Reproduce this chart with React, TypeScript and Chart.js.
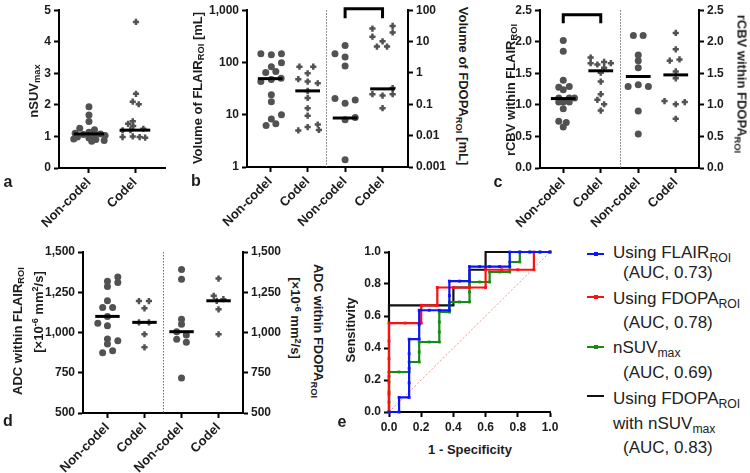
import React, { useEffect, useRef } from 'react';
import { Chart, registerables } from 'chart.js';

Chart.register(...registerables);

const FONT = "'Liberation Sans', Arial, Helvetica, sans-serif";
const POINT = '#525252';
const INK = '#1c1c1c';

// ---------- Panel a: nSUVmax ----------
const aCats = ['Non-codel', 'Codel'];
const aNonCodelVals = [1.94, 1.68, 1.47, 1.26, 1.21, 1.13, 1.1, 1.08, 1.06, 1.05, 1.03, 0.98, 0.95, 0.92, 0.9, 0.87, 0.85];
const aNonCodelJit = [0, 0, 0, -0.2, 0.12, 0.0, -0.3, 0.25, -0.12, 0.12, 0.35, -0.25, 0.0, -0.33, 0.15, 0.33, 0.06];
const aCodelVals = [4.63, 2.35, 2.1, 2.02, 1.48, 1.4, 1.33, 1.24, 1.2, 1.19, 1.0, 0.98, 0.98, 0.96];
const aCodelJit = [0.02, 0.02, -0.05, 0.08, -0.05, -0.15, -0.04, 0.18, -0.1, -0.27, -0.05, -0.27, 0.1, 0.22];
const aMedians = [1.08, 1.2];
const aTicks = [0, 1, 2, 3, 4, 5];

// ---------- Panel b: volumes ----------
const bCats = ['Non-codel', 'Codel', 'Non-codel', 'Codel'];
const bFlairNonCodelVals = [147, 141, 147, 83, 99, 64, 67, 43, 47, 50, 24, 17.7, 8.3, 10, 6.2, 6.7];
const bFlairNonCodelJit = [-0.25, 0.03, 0.3, 0.03, 0.3, -0.12, 0.15, -0.25, 0.03, 0.29, 0.03, 0.03, 0.03, 0.3, -0.11, 0.15];
const bFlairCodelVals = [83, 83, 62, 48, 43, 40, 28.6, 21, 13.3, 9.6, 6.5, 5.8, 5.0, 5.1];
const bFlairCodelJit = [-0.22, 0.15, 0.0, -0.25, 0.0, 0.27, 0.0, 0.0, 0.0, 0.0, 0.27, 0.0, -0.25, 0.3];
const bFdopaNonCodelVals = [7.5, 4.1, 3.2, 1.66, 0.154, 0.107, 0.136, 0.038, 0.032, 0.0017];
const bFdopaNonCodelJit = [0, -0.27, 0, 0, -0.27, 0, 0.27, 0.27, 0, 0];
const bFdopaCodelVals = [26, 31.6, 19.5, 14.3, 10.2, 6.9, 6.9, 0.33, 0.21, 0.19, 0.21, 0.075];
const bFdopaCodelJit = [-0.27, 0.27, 0.27, -0.27, 0, -0.15, 0.12, 0.27, -0.27, 0, 0.27, 0];
const bMedians = [49, 28.6, 0.0365, 0.31];
const bLeftTicks = [1, 10, 100, 1000];
const bRightTicks = [0.001, 0.01, 0.1, 1, 10, 100];

// ---------- Panel c: rCBV ----------
const cCats = ['Non-codel', 'Codel', 'Non-codel', 'Codel'];
const cFlairNonCodelVals = [2.02, 1.85, 1.39, 1.28, 1.29, 1.24, 1.11, 1.11, 1.11, 1.045, 1.045, 1.045, 0.94, 0.74, 0.72, 0.65];
const cFlairNonCodelJit = [0, 0, 0, -0.12, 0.16, 0, -0.12, 0.16, 0.3, -0.12, 0, 0.16, 0, -0.12, 0.08, 0];
const cFlairCodelVals = [1.75, 1.66, 1.64, 1.68, 1.66, 1.59, 1.51, 1.37, 1.17, 1.08, 1.01, 0.91];
const cFlairCodelJit = [-0.27, -0.27, -0.09, 0.09, 0.27, 0.09, 0, 0, 0, -0.09, 0.09, 0];
const cFdopaNonCodelVals = [2.1, 2.1, 1.79, 1.7, 1.59, 1.29, 1.32, 1.29, 0.905, 0.54];
const cFdopaNonCodelJit = [-0.13, 0.13, 0, 0, 0, -0.27, 0, 0.27, 0, 0];
const cFdopaCodelVals = [2.14, 1.88, 1.7, 1.72, 1.53, 1.42, 1.06, 1.045, 1.01, 0.78];
const cFdopaCodelJit = [0, 0, -0.16, 0.1, 0, 0, -0.3, 0.24, 0, 0];
const cMedians = [1.1, 1.54, 1.45, 1.475];
const cTicks = [0, 0.5, 1, 1.5, 2, 2.5];

// ---------- Panel d: ADC ----------
const dCats = ['Non-codel', 'Codel', 'Non-codel', 'Codel'];
const dFlairNonCodelVals = [1345, 1319, 1311, 1286, 1197, 1156, 1156, 1100, 1057, 1042, 960, 949, 929, 887, 875];
const dFlairNonCodelJit = [0.28, 0, 0.28, 0, 0, -0.13, 0.14, 0, -0.26, 0, 0, 0.28, 0, 0.14, -0.13];
const dFlairCodelVals = [1195, 1195, 1150, 1063, 1063, 989, 908];
const dFlairCodelJit = [-0.15, 0.12, 0, -0.15, 0.12, 0, 0];
const dFdopaNonCodelVals = [1391, 1331, 1083, 1051, 1005, 985, 958, 939, 717];
const dFdopaNonCodelJit = [0, 0, 0, 0, -0.13, 0.13, -0.13, 0.13, 0];
const dFdopaCodelVals = [1335, 1228, 1207, 1197, 1144, 989];
const dFdopaCodelJit = [0, -0.13, 0.13, -0.05, 0, 0];
const dMedians = [1100, 1063, 1005, 1197];
const dTicks = [500, 750, 1000, 1250, 1500];

// ---------- Panel e: ROC ----------
const rocNames = ['Using FLAIR', 'Using FDOPA', 'nSUV', 'Using FDOPA'];
const rocAuc = [0.73, 0.78, 0.69, 0.83];
const rocFlairX = [0, 0.0625, 0.0625, 0.125, 0.125, 0.125, 0.125, 0.125, 0.1875, 0.1875, 0.1875, 0.25, 0.3125, 0.375, 0.375, 0.375, 0.4375, 0.5, 0.5, 0.5625, 0.625, 0.6875, 0.75, 0.75, 0.8125, 0.875, 0.9375, 1];
const rocFlairY = [0, 0, 0.091, 0.091, 0.182, 0.273, 0.364, 0.455, 0.455, 0.545, 0.636, 0.636, 0.636, 0.636, 0.727, 0.818, 0.818, 0.818, 0.909, 0.909, 0.909, 0.909, 0.909, 1, 1, 1, 1, 1];
const rocFdopaX = [0, 0, 0, 0, 0, 0, 0.1, 0.2, 0.2, 0.3, 0.3, 0.4, 0.5, 0.6, 0.6, 0.7, 0.8, 0.9, 0.9, 1];
const rocFdopaY = [0, 0.111, 0.222, 0.333, 0.444, 0.556, 0.556, 0.556, 0.667, 0.667, 0.778, 0.778, 0.778, 0.778, 0.889, 0.889, 0.889, 0.889, 1, 1];
const rocSuvX = [0, 0, 0, 0, 0, 0.0625, 0.125, 0.125, 0.1875, 0.1875, 0.1875, 0.25, 0.3125, 0.3125, 0.3125, 0.3125, 0.375, 0.375, 0.4375, 0.5, 0.5, 0.5, 0.5625, 0.625, 0.625, 0.6875, 0.75, 0.75, 0.8125, 0.8125, 0.875, 0.9375, 1];
const rocSuvY = [0, 0.0625, 0.125, 0.1875, 0.25, 0.25, 0.25, 0.3125, 0.3125, 0.375, 0.4375, 0.4375, 0.4375, 0.5, 0.5625, 0.625, 0.625, 0.6875, 0.6875, 0.6875, 0.75, 0.8125, 0.8125, 0.8125, 0.875, 0.875, 0.875, 0.9375, 0.9375, 1, 1, 1, 1];
const rocComboX = [0, 0, 0.4, 0.4, 0.5, 0.5, 0.6, 0.6, 1];
const rocComboY = [0, 0.667, 0.667, 0.778, 0.778, 0.889, 0.889, 1, 1];
const rocChanceX = [0, 1];
const rocChanceY = [0, 1];
const eTicks = [0, 0.2, 0.4, 0.6, 0.8, 1];

// ---------- helpers ----------
Chart.defaults.font.family = FONT;
Chart.defaults.color = INK;

const MED_HALF = 0.33;

type Strip = { cat: number; vals: number[]; jit: number[]; median: number; codel: boolean; axis: string };

function stripDatasets(strips: Strip[]) {
  const ds: any[] = [];
  strips.forEach((s) => {
    ds.push({
      data: s.vals.map((v, i) => ({ x: s.cat + s.jit[i], y: v })),
      yAxisID: s.axis,
      pointStyle: s.codel ? 'cross' : 'circle',
      pointRadius: s.codel ? 3.1 : 3.5,
      pointHoverRadius: s.codel ? 3.1 : 3.5,
      pointBackgroundColor: POINT,
      pointBorderColor: POINT,
      pointBorderWidth: s.codel ? 2.5 : 0,
      showLine: false,
      clip: false,
      order: 2,
    });
    ds.push({
      data: [
        { x: s.cat - MED_HALF, y: s.median },
        { x: s.cat + MED_HALF, y: s.median },
      ],
      yAxisID: s.axis,
      showLine: true,
      borderColor: '#000',
      borderWidth: 3,
      pointRadius: 0,
      clip: false,
      order: 1,
    });
  });
  return ds;
}

function yAxis(position: string, type: string, min: number, max: number, ticks: number[], fmt: (v: number) => string, width: number) {
  return {
    type,
    position,
    min,
    max,
    afterBuildTicks: (ax: any) => {
      ax.ticks = ticks.map((v) => ({ value: v }));
    },
    afterFit: (ax: any) => {
      ax.width = width;
    },
    ticks: { callback: (v: any) => fmt(Number(v)), font: { size: 12, weight: 'bold' }, color: INK, padding: 3, autoSkip: false },
    grid: { display: true, drawOnChartArea: false, drawTicks: true, tickLength: 5, tickWidth: 2, tickColor: '#000' },
    border: { display: true, color: '#000', width: 2 },
  };
}

function xCatAxis(cats: string[], min: number, max: number, height: number) {
  return {
    type: 'linear',
    position: 'bottom',
    min,
    max,
    afterBuildTicks: (ax: any) => {
      ax.ticks = cats.map((_, i) => ({ value: i }));
    },
    afterFit: (ax: any) => {
      ax.height = height;
    },
    ticks: {
      callback: (v: any) => cats[Math.round(Number(v))] ?? '',
      minRotation: 45,
      maxRotation: 45,
      font: { size: 13, weight: 'bold' },
      color: INK,
      padding: 2,
      autoSkip: false,
    },
    grid: { display: true, drawOnChartArea: false, drawTicks: true, tickLength: 5, tickWidth: 2, tickColor: '#000' },
    border: { display: true, color: '#000', width: 2 },
  };
}

const marksPlugin = {
  id: 'marks',
  afterDatasetsDraw(chart: any, _args: any, o: any) {
    const { ctx, chartArea: ca, scales } = chart;
    ctx.save();
    if (o && o.divider !== undefined && o.divider !== null) {
      const x = Math.round(scales.x.getPixelForValue(o.divider)) + 0.5;
      ctx.strokeStyle = '#6e6e6e';
      ctx.lineWidth = 1;
      ctx.setLineDash([1.5, 1.5]);
      ctx.beginPath();
      ctx.moveTo(x, ca.top);
      ctx.lineTo(x, ca.bottom);
      ctx.stroke();
      ctx.setLineDash([]);
    }
    if (o && o.bracket) {
      const b = o.bracket;
      const x1 = scales.x.getPixelForValue(b.from);
      const x2 = scales.x.getPixelForValue(b.to);
      const yt = ca.top + b.top;
      const yb = ca.top + b.bottom;
      ctx.strokeStyle = '#000';
      ctx.lineWidth = 3;
      ctx.lineJoin = 'miter';
      ctx.lineCap = 'butt';
      ctx.beginPath();
      ctx.moveTo(x1, yb);
      ctx.lineTo(x1, yt);
      ctx.lineTo(x2, yt);
      ctx.lineTo(x2, yb);
      ctx.stroke();
    }
    ctx.restore();
  },
};

const baseOptions = (padding: any, scales: any, marks: any) => ({
  responsive: false,
  animation: false,
  events: [],
  layout: { padding },
  plugins: { legend: { display: false }, tooltip: { enabled: false }, marks },
  scales,
});

const fmtFixed1 = (v: number) => v.toFixed(1);
const fmtComma = (v: number) => v.toLocaleString('en-US');
const fmtPlain = (v: number) => String(v);

// ---------- configs ----------
function configA() {
  const strips: Strip[] = [
    { cat: 0, vals: aNonCodelVals, jit: aNonCodelJit, median: aMedians[0], codel: false, axis: 'y' },
    { cat: 1, vals: aCodelVals, jit: aCodelJit, median: aMedians[1], codel: true, axis: 'y' },
  ];
  return {
    type: 'scatter',
    data: { datasets: stripDatasets(strips) },
    options: baseOptions(
      { top: 8, right: 10, left: 0, bottom: 0 },
      {
        x: xCatAxis(aCats, -0.65, 1.65, 67),
        y: yAxis('left', 'linear', 0, 5, aTicks, fmtPlain, 59),
      },
      {}
    ),
    plugins: [marksPlugin],
  };
}

function configB() {
  const strips: Strip[] = [
    { cat: 0, vals: bFlairNonCodelVals, jit: bFlairNonCodelJit, median: bMedians[0], codel: false, axis: 'y' },
    { cat: 1, vals: bFlairCodelVals, jit: bFlairCodelJit, median: bMedians[1], codel: true, axis: 'y' },
    { cat: 2, vals: bFdopaNonCodelVals, jit: bFdopaNonCodelJit, median: bMedians[2], codel: false, axis: 'y2' },
    { cat: 3, vals: bFdopaCodelVals, jit: bFdopaCodelJit, median: bMedians[3], codel: true, axis: 'y2' },
  ];
  return {
    type: 'scatter',
    data: { datasets: stripDatasets(strips) },
    options: baseOptions(
      { top: 7, right: 0, left: 0, bottom: 0 },
      {
        x: xCatAxis(bCats, -0.62, 3.68, 68),
        y: yAxis('left', 'logarithmic', 1, 1000, bLeftTicks, fmtComma, 47),
        y2: yAxis('right', 'logarithmic', 0.001, 100, bRightTicks, fmtPlain, 40),
      },
      { divider: 1.5, bracket: { from: 2, to: 3, top: -1.5, bottom: 8 } }
    ),
    plugins: [marksPlugin],
  };
}

function configC() {
  const strips: Strip[] = [
    { cat: 0, vals: cFlairNonCodelVals, jit: cFlairNonCodelJit, median: cMedians[0], codel: false, axis: 'y' },
    { cat: 1, vals: cFlairCodelVals, jit: cFlairCodelJit, median: cMedians[1], codel: true, axis: 'y' },
    { cat: 2, vals: cFdopaNonCodelVals, jit: cFdopaNonCodelJit, median: cMedians[2], codel: false, axis: 'y2' },
    { cat: 3, vals: cFdopaCodelVals, jit: cFdopaCodelJit, median: cMedians[3], codel: true, axis: 'y2' },
  ];
  return {
    type: 'scatter',
    data: { datasets: stripDatasets(strips) },
    options: baseOptions(
      { top: 7, right: 0, left: 0, bottom: 0 },
      {
        x: xCatAxis(cCats, -0.62, 3.62, 67),
        y: yAxis('left', 'linear', 0, 2.5, cTicks, fmtFixed1, 40),
        y2: yAxis('right', 'linear', 0, 2.5, cTicks, fmtFixed1, 36),
      },
      { divider: 1.5, bracket: { from: 0, to: 1, top: 4.5, bottom: 13 } }
    ),
    plugins: [marksPlugin],
  };
}

function configD() {
  const strips: Strip[] = [
    { cat: 0, vals: dFlairNonCodelVals, jit: dFlairNonCodelJit, median: dMedians[0], codel: false, axis: 'y' },
    { cat: 1, vals: dFlairCodelVals, jit: dFlairCodelJit, median: dMedians[1], codel: true, axis: 'y' },
    { cat: 2, vals: dFdopaNonCodelVals, jit: dFdopaNonCodelJit, median: dMedians[2], codel: false, axis: 'y2' },
    { cat: 3, vals: dFdopaCodelVals, jit: dFdopaCodelJit, median: dMedians[3], codel: true, axis: 'y2' },
  ];
  return {
    type: 'scatter',
    data: { datasets: stripDatasets(strips) },
    options: baseOptions(
      { top: 12, right: 0, left: 0, bottom: 0 },
      {
        x: xCatAxis(dCats, -0.66, 3.66, 60),
        y: yAxis('left', 'linear', 500, 1500, dTicks, fmtComma, 43),
        y2: yAxis('right', 'linear', 500, 1500, dTicks, fmtComma, 42),
      },
      { divider: 1.5 }
    ),
    plugins: [marksPlugin],
  };
}

const toPts = (xs: number[], ys: number[]) => xs.map((x, i) => ({ x, y: ys[i] }));

function rocDataset(xs: number[], ys: number[], color: string, markers: boolean) {
  return {
    data: toPts(xs, ys),
    showLine: true,
    borderColor: color,
    borderWidth: 2.2,
    pointStyle: 'rect',
    pointRadius: markers ? 2 : 0,
    pointBackgroundColor: color,
    pointBorderColor: color,
    pointBorderWidth: 0,
    clip: false,
  };
}

function configE() {
  const eX: any = {
    type: 'linear',
    position: 'bottom',
    min: 0,
    max: 1,
    afterBuildTicks: (ax: any) => {
      ax.ticks = eTicks.map((v) => ({ value: v }));
    },
    afterFit: (ax: any) => {
      ax.height = 28;
    },
    ticks: { callback: (v: any) => Number(v).toFixed(1), minRotation: 0, maxRotation: 0, font: { size: 12, weight: 'bold' }, color: INK, padding: 3 },
    grid: { display: true, drawOnChartArea: false, drawTicks: true, tickLength: 5, tickWidth: 2, tickColor: '#000' },
    border: { display: true, color: '#000', width: 2 },
  };
  return {
    type: 'scatter',
    data: {
      datasets: [
        rocDataset(rocFlairX, rocFlairY, '#0a14ff', true),
        rocDataset(rocFdopaX, rocFdopaY, '#ff1010', true),
        rocDataset(rocSuvX, rocSuvY, '#168a16', true),
        rocDataset(rocComboX, rocComboY, '#111111', false),
        { ...rocDataset(rocChanceX, rocChanceY, 'rgba(255,120,120,0.85)', false), borderWidth: 1, borderDash: [2, 2] },
      ],
    },
    options: baseOptions(
      { top: 12, right: 20, left: 0, bottom: 0 },
      { x: eX, y: yAxis('left', 'linear', 0, 1, eTicks, fmtFixed1, 39) },
      {}
    ),
    plugins: [marksPlugin],
  };
}

// ---------- components ----------
function ChartBox({ left, top, width, height, make }: any) {
  const ref = useRef<HTMLCanvasElement>(null);
  useEffect(() => {
    const chart = new Chart(ref.current as HTMLCanvasElement, make());
    return () => chart.destroy();
  }, []);
  return (
    <canvas
      ref={ref}
      width={width}
      height={height}
      style={{ position: 'absolute', left, top, width, height }}
    />
  );
}

const Sub = ({ children }: any) => (
  <span style={{ fontSize: '0.72em', verticalAlign: '-0.32em', lineHeight: 0 }}>{children}</span>
);
const Sup = ({ children }: any) => (
  <span style={{ fontSize: '0.7em', verticalAlign: '0.45em', lineHeight: 0 }}>{children}</span>
);

function Label({ x, y, rot = 0, size = 13, weight = 'bold', children }: any) {
  return (
    <div
      style={{
        position: 'absolute',
        left: x,
        top: y,
        transform: `translate(-50%, -50%) rotate(${rot}deg)`,
        whiteSpace: 'nowrap',
        fontFamily: FONT,
        fontWeight: weight,
        fontSize: size,
        color: INK,
        lineHeight: 1,
      }}
    >
      {children}
    </div>
  );
}

function LegendText({ x, baseline, children }: any) {
  return (
    <div
      style={{
        position: 'absolute',
        left: x,
        top: baseline - 14.5,
        whiteSpace: 'nowrap',
        fontFamily: FONT,
        fontSize: 17,
        lineHeight: '17px',
        color: '#222',
      }}
    >
      {children}
    </div>
  );
}

function LegendMark({ y, color, marker }: any) {
  return (
    <>
      <div style={{ position: 'absolute', left: 587, top: y - 1, width: 17, height: 2, background: color }} />
      {marker ? <div style={{ position: 'absolute', left: 594, top: y - 2, width: 4, height: 4, background: color }} /> : null}
    </>
  );
}

const units = (
  <>
    [×10<Sup>-6</Sup> mm<Sup>2</Sup>/s]
  </>
);

export default function App() {
  return (
    <div style={{ position: 'absolute', left: 0, top: 0, width: 750, height: 473, background: '#fff', overflow: 'hidden' }}>
      <ChartBox left={0} top={0} width={175} height={235} make={configA} />
      <ChartBox left={200} top={0} width={248} height={235} make={configB} />
      <ChartBox left={500} top={0} width={235} height={235} make={configC} />
      <ChartBox left={40} top={240} width={245} height={233} make={configD} />
      <ChartBox left={350} top={240} width={220} height={200} make={configE} />

      {/* axis titles */}
      <Label x={33} y={91} rot={-90}>
        nSUV<Sub>max</Sub>
      </Label>
      <Label x={197} y={88} rot={-90}>
        Volume of FLAIR<Sub>ROI</Sub> [mL]
      </Label>
      <Label x={463} y={86} rot={90}>
        Volume of FDOPA<Sub>ROI</Sub> [mL]
      </Label>
      <Label x={510} y={90} rot={-90}>
        rCBV within FLAIR<Sub>ROI</Sub>
      </Label>
      <Label x={742} y={84} rot={90}>
        rCBV within FDOPA<Sub>ROI</Sub>
      </Label>
      <Label x={17} y={331} rot={-90}>
        ADC within FLAIR<Sub>ROI</Sub>
      </Label>
      <Label x={38} y={312} rot={-90}>
        {units}
      </Label>
      <Label x={318} y={331} rot={90}>
        ADC within FDOPA<Sub>ROI</Sub>
      </Label>
      <Label x={295} y={318} rot={90}>
        {units}
      </Label>
      <Label x={350} y={330} rot={-90}>
        Sensitivity
      </Label>
      <Label x={470} y={449}>1 - Specificity</Label>

      {/* panel letters */}
      <Label x={8} y={182} size={16}>a</Label>
      <Label x={196} y={181} size={16}>b</Label>
      <Label x={498} y={182} size={16}>c</Label>
      <Label x={8} y={421} size={16}>d</Label>
      <Label x={342} y={422} size={16}>e</Label>

      {/* legend */}
      <LegendMark y={254} color="#0a14ff" marker />
      <LegendText x={613} baseline={258}>
        {rocNames[0]}
        <Sub>ROI</Sub>
      </LegendText>
      <LegendText x={623} baseline={278}>(AUC, {rocAuc[0].toFixed(2)})</LegendText>

      <LegendMark y={297} color="#ff1010" marker />
      <LegendText x={613} baseline={304}>
        {rocNames[1]}
        <Sub>ROI</Sub>
      </LegendText>
      <LegendText x={623} baseline={328}>(AUC, {rocAuc[1].toFixed(2)})</LegendText>

      <LegendMark y={347} color="#168a16" marker />
      <LegendText x={613} baseline={353}>
        {rocNames[2]}
        <Sub>max</Sub>
      </LegendText>
      <LegendText x={623} baseline={378}>(AUC, {rocAuc[2].toFixed(2)})</LegendText>

      <LegendMark y={396} color="#111111" marker={false} />
      <LegendText x={613} baseline={404}>
        {rocNames[3]}
        <Sub>ROI</Sub>
      </LegendText>
      <LegendText x={613} baseline={429}>
        with nSUV<Sub>max</Sub>
      </LegendText>
      <LegendText x={623} baseline={453}>(AUC, {rocAuc[3].toFixed(2)})</LegendText>
    </div>
  );
}
